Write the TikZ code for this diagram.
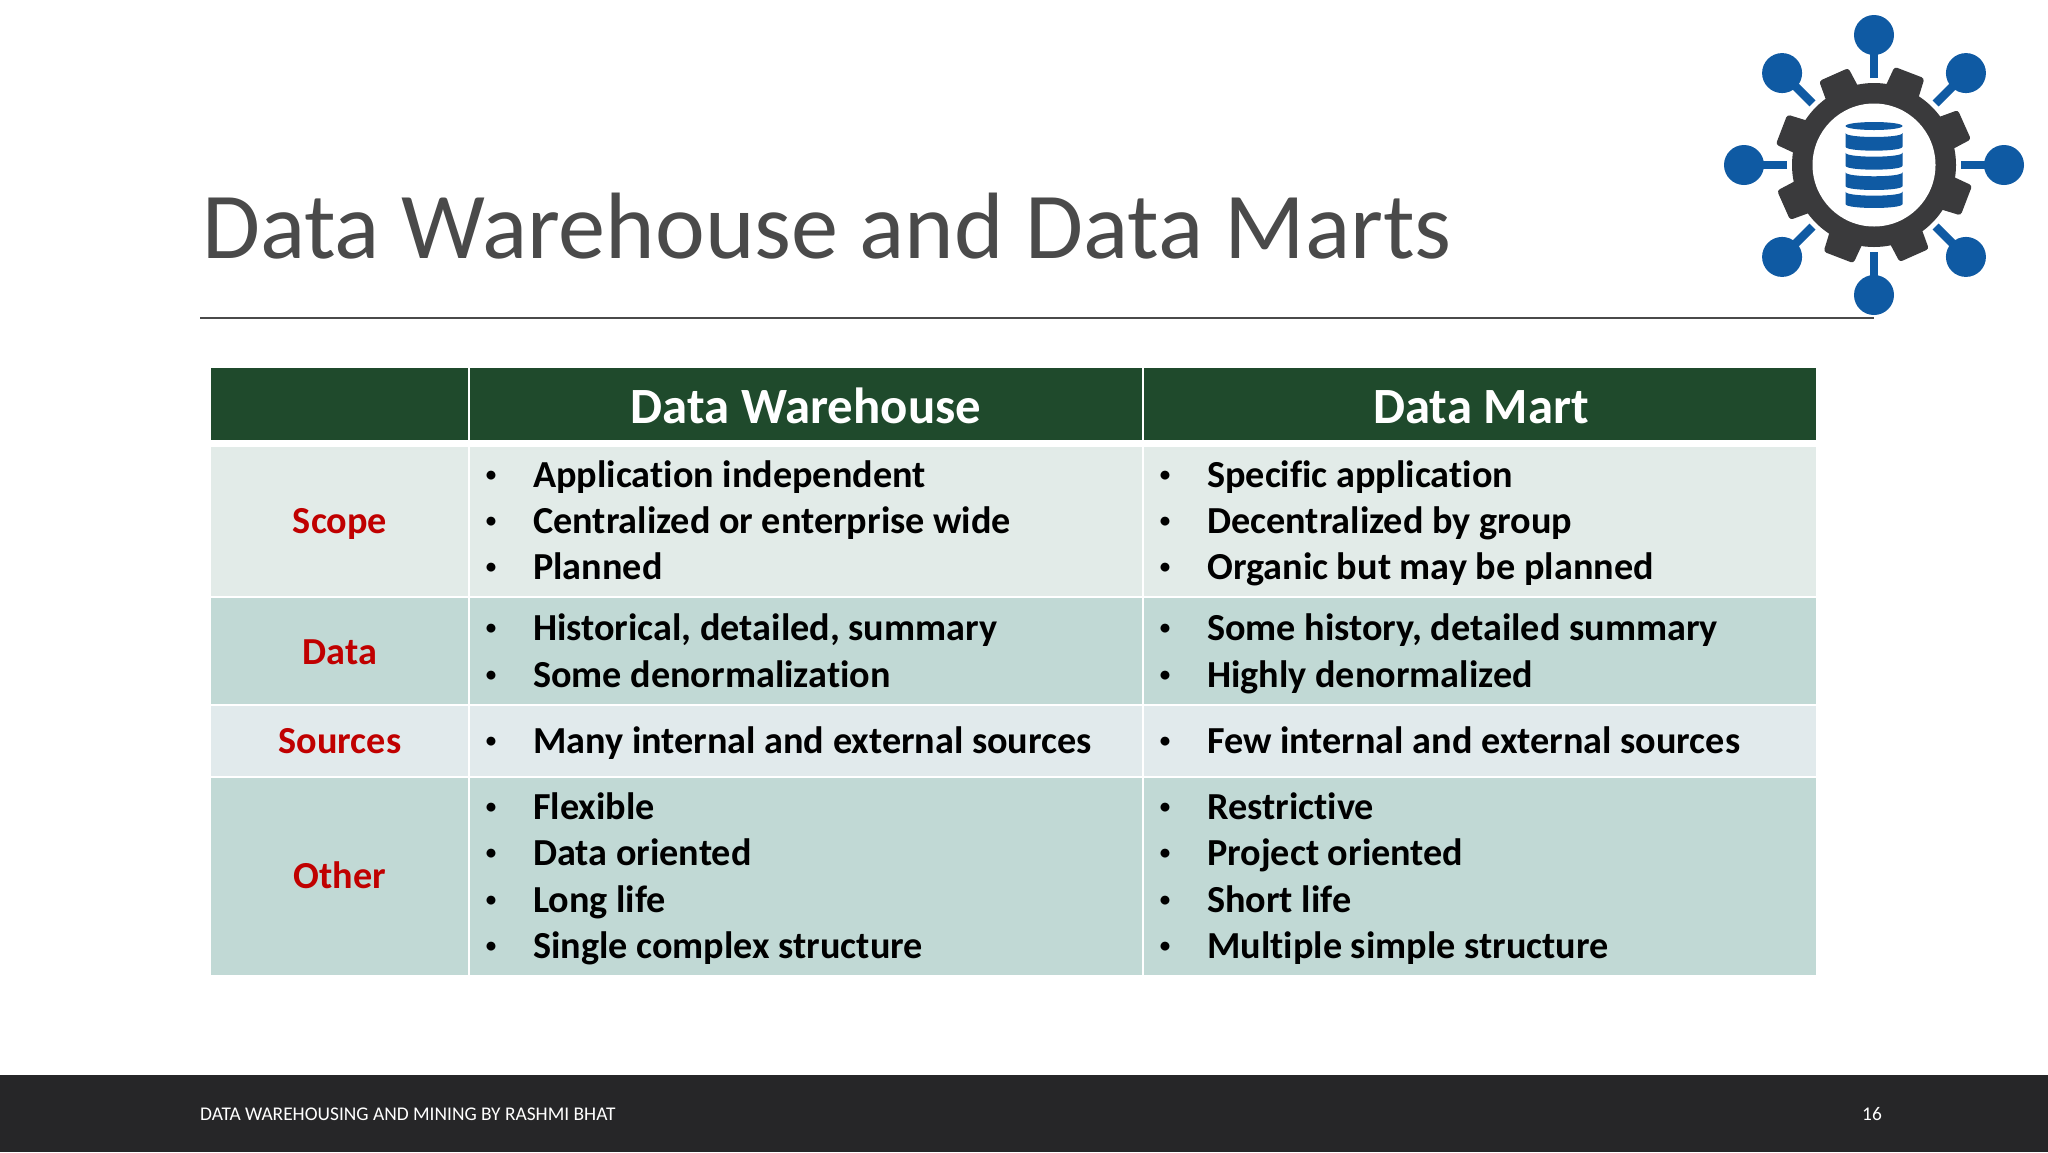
\documentclass[tikz,border=0pt]{standalone}
\usepackage{fontspec}
\setmainfont[Ligatures=NoCommon]{Carlito}
\definecolor{hdr}{HTML}{1F4A2C}
\definecolor{rowa}{HTML}{E2EBE8}
\definecolor{rowb}{HTML}{C1D9D5}
\definecolor{rowc}{HTML}{E1EAEC}
\definecolor{lab}{HTML}{C00000}
\definecolor{foot}{HTML}{262628}
\definecolor{ttl}{HTML}{4A4A4A}
\definecolor{blu}{HTML}{0F5AA3}
\definecolor{gear}{HTML}{3A3A3C}
\tikzset{
 x=1pt,y=-1pt,
 item/.style={anchor=base west,inner sep=0pt,font=\fontsize{38.2}{38}\selectfont\bfseries,text=black},
 bul/.style={anchor=base,inner sep=0pt,font=\fontsize{21}{21}\selectfont\bfseries,text=black},
 rowlab/.style={anchor=base,inner sep=0pt,font=\fontsize{38.2}{38}\selectfont\bfseries,text=lab},
 head/.style={anchor=base,inner sep=0pt,font=\fontsize{50.8}{50}\selectfont\bfseries,text=white},
 foottext/.style={anchor=base,inner sep=0pt,font=\fontsize{19.4}{19}\selectfont,text=white},
 stem/.style={blu,line width=8.5pt},
}
\newcommand{\li}[4]{%
 \node[bul] (#1b) at (#2-42,#3-5.5) {•};
 \node[item] (#1) at (#2,#3+0.8) {#4};}
\begin{document}
\begin{tikzpicture}
\useasboundingbox (0,0) rectangle (2048,1152);
\fill[white] (0,0) rectangle (2048,1152);
% footer
\fill[foot] (0,1075) rectangle (2048,1152);
\node[foottext,anchor=base west] (ft) at (200,1120) {DATA WAREHOUSING AND MINING BY RASHMI BHAT};
\node[foottext] (pg) at (1872,1120) {16};
% title
\node[anchor=base west,inner sep=0pt,font=\fontsize{94.3}{94}\selectfont,text=ttl] (title) at (202,258) {Data Warehouse and Data Marts};
\draw[ttl,line width=1.5pt] (200,318) -- (1874,318);
% table backgrounds
\fill[hdr] (211,368) rectangle (468,440);
\fill[hdr] (470,368) rectangle (1142,440);
\fill[hdr] (1144,368) rectangle (1816,440);
\foreach \a/\b/\c in {447/596/rowa,598/704/rowb,706/776/rowc,778/975/rowb}{
 \fill[\c] (211,\a) rectangle (468,\b);
 \fill[\c] (470,\a) rectangle (1142,\b);
 \fill[\c] (1144,\a) rectangle (1816,\b);
}
\node[head] (h1) at (806,423) {Data Warehouse};
\node[head] (h2) at (1481,423) {Data Mart};
\node[rowlab] (l1) at (340,533.8) {Scope};
\node[rowlab] (l2) at (340,664.8) {Data};
\node[rowlab] (l3) at (340,753.8) {Sources};
\node[rowlab] (l4) at (340,888.8) {Other};
\li{a1}{533}{487}{Application independent}
\li{a2}{533}{533}{Centralized or enterprise wide}
\li{a3}{533}{579}{Planned}
\li{a4}{533}{640}{Historical, detailed, summary}
\li{a5}{533}{687}{Some denormalization}
\li{a6}{533}{753}{Many internal and external sources}
\li{a7}{533}{819}{Flexible}
\li{a8}{533}{865}{Data oriented}
\li{a9}{533}{912}{Long life}
\li{a10}{533}{958}{Single complex structure}
\li{b1}{1207}{487}{Specific application}
\li{b2}{1207}{533}{Decentralized by group}
\li{b3}{1207}{579}{Organic but may be planned}
\li{b4}{1207}{640}{Some history, detailed summary}
\li{b5}{1207}{687}{Highly denormalized}
\li{b6}{1207}{753}{Few internal and external sources}
\li{b7}{1207}{819}{Restrictive}
\li{b8}{1207}{865}{Project oriented}
\li{b9}{1207}{912}{Short life}
\li{b10}{1207}{958}{Multiple simple structure}
% logo
\begin{scope}[shift={(1874,165)}]
 \foreach \t in {0,45,...,315}{
  \draw[stem] (\t:87) -- (\t:115);
  \fill[blu] (\t:130) circle (20);
 }
 \foreach \t in {24,69,...,339}{
  \begin{scope}[rotate=\t]
  \fill[gear,rounded corners=3pt] (70,-18) -- (99,-16) -- (99,16) -- (70,18) -- cycle;
  \end{scope}
 }
 \fill[gear] (0,0) circle (82);
 \fill[white] (0,0) circle (61.5);
 % database
 \fill[blu] (0,-39) ellipse (28.5 and 4);
 \foreach \a/\b in {-32/-18.3,-12.3/0.7,7.3/21,26.7/39}{
  \fill[blu] (-28.5,\a) .. controls (-28.5,\a+5.3) and (28.5,\a+5.3) .. (28.5,\a)
     -- (28.5,\b) .. controls (28.5,\b+5.3) and (-28.5,\b+5.3) .. (-28.5,\b) -- cycle;
 }
\end{scope}
\end{tikzpicture}
\end{document}
